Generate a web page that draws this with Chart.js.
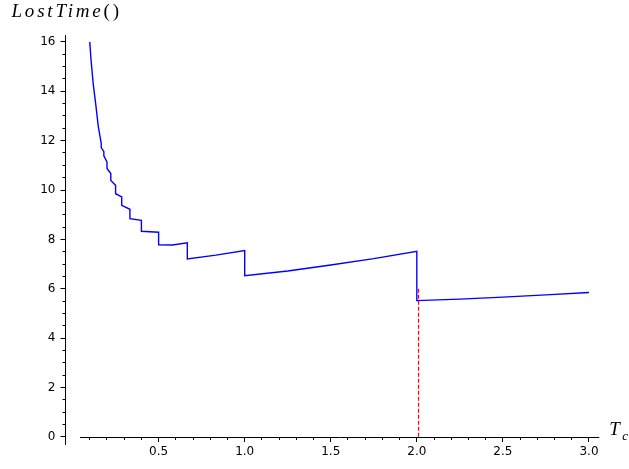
<!DOCTYPE html>
<html lang="en">
<head>
  <meta charset="UTF-8"/>
  <title>LostTime vs Tc</title>
  <script src="https://cdn.jsdelivr.net/npm/chart.js"></script>
  <style>
    html, body { margin: 0; padding: 0; background: #ffffff; }
    canvas { display: block; }
  </style>
</head>
<body>
<canvas id="lostChart" width="629" height="469"></canvas>

<script>
// values
const tcValues = [0.100, 0.107, 0.120, 0.136, 0.149, 0.1667, 0.1667, 0.1818, 0.1818, 0.200, 0.200,
  0.2222, 0.2222, 0.250, 0.250, 0.2857, 0.2857, 0.3333, 0.3333, 0.400, 0.400, 0.500, 0.500,
  0.580, 0.6667, 0.6667, 0.833, 1.000, 1.000, 1.250, 1.500, 1.750, 2.000, 2.000,
  2.250, 2.500, 2.750, 3.000];
const lostValues = [16.0, 15.3, 14.3, 13.4, 12.6, 11.88, 11.72, 11.55, 11.38, 11.14, 10.87,
  10.67, 10.39, 10.19, 9.85, 9.72, 9.38, 9.22, 8.84, 8.77, 8.33, 8.29, 7.78,
  7.77, 7.86, 7.21, 7.36, 7.55, 6.53, 6.72, 6.96, 7.22, 7.52, 5.52,
  5.58, 5.66, 5.75, 5.85];

const markerTc = [2.01, 2.01];
const markerLost = [0, 6.06];

const xRange = [-0.041, 3.06];
const yRange = [-0.31, 16.28];
const xSpineStart = 0.043;   // sage draws the x axis only from here

const isMajorX = v => Math.round(v * 10) % 5 === 0;
const isMajorY = v => Math.round(v * 2) % 4 === 0;

const axisLabels = {
  id: 'axisLabels',
  afterDraw(chart) {
    const ctx = chart.ctx;
    const area = chart.chartArea;
    const xs = chart.scales.x, ys = chart.scales.y;
    const y0 = ys.getPixelForValue(0);
    ctx.save();
    // x axis line, starts a bit right of the y axis
    ctx.strokeStyle = '#000';
    ctx.lineWidth = 1;
    ctx.beginPath();
    ctx.moveTo(xs.getPixelForValue(xSpineStart), Math.round(y0) + 0.5);
    ctx.lineTo(area.right, Math.round(y0) + 0.5);
    ctx.stroke();

    ctx.fillStyle = '#000';
    ctx.textBaseline = 'alphabetic';
    ctx.textAlign = 'left';
    ctx.font = 'italic 19px "Liberation Serif"';
    ctx.letterSpacing = '2.8px';
    const lx = area.left - 54, ly = area.top - 18.5;
    ctx.fillText('LostTime', lx, ly);
    const w = ctx.measureText('LostTime').width;
    ctx.font = '19px "Liberation Serif"';
    ctx.fillText('()', lx + w, ly);

    ctx.letterSpacing = '0px';
    ctx.font = 'italic 19px "Liberation Serif"';
    ctx.fillText('T', area.right + 10, y0 - 2);
    ctx.font = 'italic 13px "Liberation Serif"';
    ctx.fillText('c', area.right + 23, y0 + 3);
    ctx.restore();
  }
};

new Chart(document.getElementById('lostChart'), {
  type: 'line',
  data: {
    datasets: [{
      data: tcValues.map((t, i) => ({ x: t, y: lostValues[i] })),
      borderColor: '#0000ff',
      borderWidth: 1.4,
      pointRadius: 0,
      tension: 0,
      fill: false
    }, {
      data: markerTc.map((t, i) => ({ x: t, y: markerLost[i] })),
      borderColor: '#ff0000',
      borderWidth: 1.2,
      borderDash: [4, 2],
      pointRadius: 0,
      fill: false
    }]
  },
  options: {
    responsive: false,
    animation: false,
    layout: { padding: { left: 0, right: 29.7, top: 35, bottom: 24.5 } },
    plugins: { legend: { display: false }, tooltip: { enabled: false }, title: { display: false } },
    scales: {
      x: {
        type: 'linear',
        min: xRange[0],
        max: xRange[1],
        position: { y: 0 },
        border: { display: false },
        grid: {
          drawOnChartArea: false,
          drawTicks: true,
          tickLength: 5,
          tickWidth: 1,
          tickColor: c => (c.tick && c.tick.value < xSpineStart) ? 'rgba(0,0,0,0)' : '#000',
          tickBorderDash: c => (c.tick && !isMajorX(c.tick.value)) ? [3, 100] : []
        },
        ticks: {
          stepSize: 0.1,
          includeBounds: false,
          autoSkip: false,
          maxRotation: 0,
          padding: 3,
          color: '#000',
          font: { family: '"DejaVu Sans"', size: 12 },
          callback: v => {
            const n = Math.round(v * 10);
            return (n % 5 === 0 && n > 0) ? (n / 10).toFixed(1) : '';
          }
        }
      },
      y: {
        type: 'linear',
        min: yRange[0],
        max: yRange[1],
        position: 'left',
        afterFit: s => { s.width = 65.5; },
        border: { display: true, color: '#000', width: 1 },
        grid: {
          drawOnChartArea: false,
          drawTicks: true,
          tickLength: 5,
          tickWidth: 1,
          tickColor: '#000',
          tickBorderDash: c => (c.tick && !isMajorY(c.tick.value)) ? [0, 2, 3, 100] : []
        },
        ticks: {
          stepSize: 0.5,
          includeBounds: false,
          autoSkip: false,
          padding: 5,
          color: '#000',
          font: { family: '"DejaVu Sans"', size: 12 },
          callback: v => {
            const n = Math.round(v * 2);
            return n % 4 === 0 ? String(n / 2) : '';
          }
        }
      }
    }
  },
  plugins: [axisLabels]
});
</script>
</body>
</html>
